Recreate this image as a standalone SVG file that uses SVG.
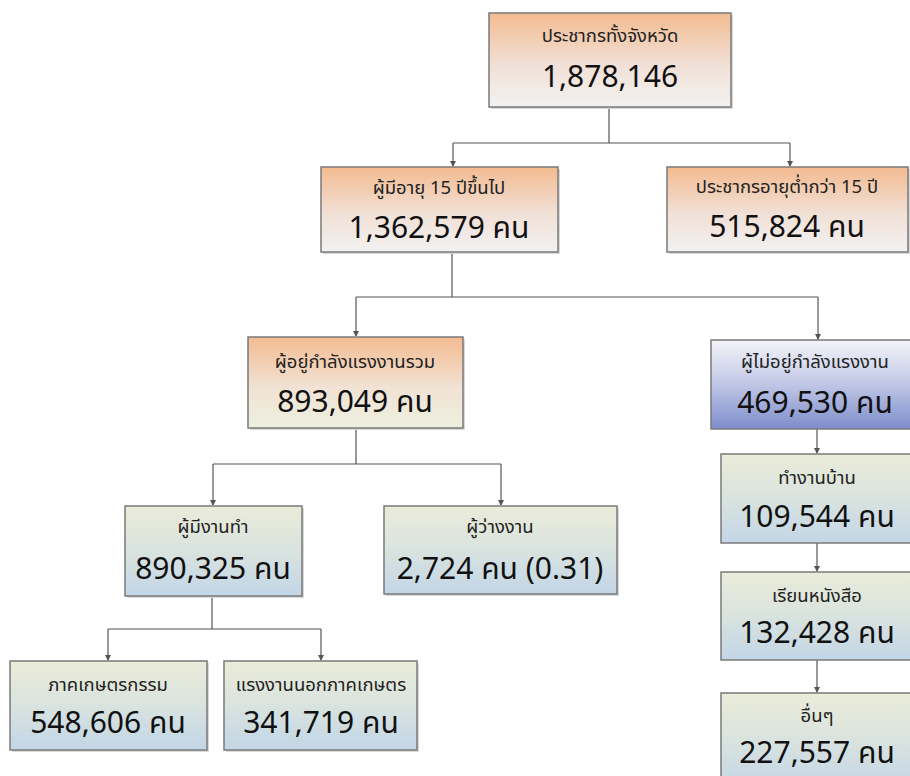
<svg xmlns="http://www.w3.org/2000/svg" width="910" height="776" viewBox="0 0 910 776">
<defs>
<linearGradient id="gOr" x1="0" y1="0" x2="0" y2="1"><stop offset="0" stop-color="#F3BB90"/><stop offset="0.55" stop-color="#F1E0D6"/><stop offset="1" stop-color="#F2F2F2"/></linearGradient>
<linearGradient id="gOrG" x1="0" y1="0" x2="0" y2="1"><stop offset="0" stop-color="#F3BB90"/><stop offset="0.55" stop-color="#F1E2D4"/><stop offset="1" stop-color="#EDF0DF"/></linearGradient>
<linearGradient id="gGB" x1="0" y1="0" x2="0" y2="1"><stop offset="0" stop-color="#EBECD9"/><stop offset="0.5" stop-color="#D9E3DF"/><stop offset="1" stop-color="#C3D6E7"/></linearGradient>
<linearGradient id="gBl" x1="0" y1="0" x2="0" y2="1"><stop offset="0" stop-color="#F4F4F8"/><stop offset="0.45" stop-color="#C6CCE8"/><stop offset="1" stop-color="#7D8DCB"/></linearGradient>
<marker id="arr" viewBox="0 0 6 6" refX="5" refY="3" markerWidth="6" markerHeight="6" orient="auto" markerUnits="userSpaceOnUse"><path d="M0,0 L6,3 L0,6 z" fill="#555"/></marker>
</defs>
<style>
.box{stroke:#7A7A7A;stroke-width:1.5}
.sh{fill:#D8D8D8}
.t{font-family:"Noto Sans Thai","Tahoma","Loma","Garuda","Noto Sans","DejaVu Sans",sans-serif;font-size:18.5px;fill:#222;text-anchor:middle}
.v{font-family:"Noto Sans Thai","Tahoma","Loma","Garuda","Noto Sans","DejaVu Sans",sans-serif;font-size:30px;fill:#111;text-anchor:middle}
.c{fill:none;stroke:#555;stroke-width:1.2}
</style>
<rect width="910" height="776" fill="#FFFFFF"/>
<g id="connectors">
<path class="c" d="M609,107 V143 M453,143 H790"/>
<path class="c" d="M453,143 V166" marker-end="url(#arr)"/>
<path class="c" d="M790,143 V166" marker-end="url(#arr)"/>
<path class="c" d="M452,252 V297 M356,297 H818"/>
<path class="c" d="M356,297 V336" marker-end="url(#arr)"/>
<path class="c" d="M818,297 V339" marker-end="url(#arr)"/>
<path class="c" d="M356,428 V464 M213,464 H501"/>
<path class="c" d="M213,464 V505" marker-end="url(#arr)"/>
<path class="c" d="M501,464 V505" marker-end="url(#arr)"/>
<path class="c" d="M212,596 V629 M108,629 H321"/>
<path class="c" d="M108,629 V660" marker-end="url(#arr)"/>
<path class="c" d="M321,629 V660" marker-end="url(#arr)"/>
<path class="c" d="M817,429 V453" marker-end="url(#arr)"/>
<path class="c" d="M817,543 V571" marker-end="url(#arr)"/>
<path class="c" d="M817,660 V692" marker-end="url(#arr)"/>
</g>
<g id="n1"><rect class="sh" x="491" y="15" width="242" height="94"/><rect class="box" x="489" y="13" width="242" height="94" fill="url(#gOr)"/><text class="t" x="610" y="42">ประชากรทั้งจังหวัด</text><text class="v" x="610" y="87">1,878,146</text></g>
<g id="n2"><rect class="sh" x="323" y="169" width="237" height="85"/><rect class="box" x="321" y="167" width="237" height="85" fill="url(#gOr)"/><text class="t" x="439" y="194">ผู้มีอายุ 15 ปีขึ้นไป</text><text class="v" x="439" y="238">1,362,579 คน</text></g>
<g id="n3"><rect class="sh" x="669" y="169" width="241" height="85"/><rect class="box" x="667" y="167" width="241" height="85" fill="url(#gOr)"/><text class="t" x="787" y="193">ประชากรอายุต่ำกว่า 15 ปี</text><text class="v" x="787" y="237">515,824 คน</text></g>
<g id="n4"><rect class="sh" x="250" y="339" width="215" height="91"/><rect class="box" x="248" y="337" width="215" height="91" fill="url(#gOrG)"/><text class="t" x="355" y="368">ผู้อยู่กำลังแรงงานรวม</text><text class="v" x="355" y="412">893,049 คน</text></g>
<g id="n5"><rect class="box" x="711" y="340" width="210" height="89" fill="url(#gBl)"/><text class="t" x="815" y="368">ผู้ไม่อยู่กำลังแรงงาน</text><text class="v" x="815" y="413">469,530 คน</text></g>
<g id="n6"><rect class="sh" x="127" y="508" width="177" height="90"/><rect class="box" x="125" y="506" width="177" height="90" fill="url(#gGB)"/><text class="t" x="213" y="533">ผู้มีงานทำ</text><text class="v" x="213" y="579">890,325 คน</text></g>
<g id="n7"><rect class="sh" x="386" y="508" width="233" height="88"/><rect class="box" x="384" y="506" width="233" height="88" fill="url(#gGB)"/><text class="t" x="500" y="533">ผู้ว่างงาน</text><text class="v" x="500" y="579">2,724 คน (0.31)</text></g>
<g id="n8"><rect class="box" x="721" y="454" width="200" height="89" fill="url(#gGB)"/><text class="t" x="817" y="484">ทำงานบ้าน</text><text class="v" x="817" y="527">109,544 คน</text></g>
<g id="n9"><rect class="box" x="721" y="572" width="200" height="88" fill="url(#gGB)"/><text class="t" x="817" y="602">เรียนหนังสือ</text><text class="v" x="817" y="643">132,428 คน</text></g>
<g id="n10"><rect class="box" x="721" y="693" width="200" height="95" fill="url(#gGB)"/><text class="t" x="817" y="722">อื่นๆ</text><text class="v" x="817" y="763">227,557 คน</text></g>
<g id="n11"><rect class="sh" x="12" y="663" width="197" height="89"/><rect class="box" x="10" y="661" width="197" height="89" fill="url(#gGB)"/><text class="t" x="108" y="691">ภาคเกษตรกรรม</text><text class="v" x="108" y="733">548,606 คน</text></g>
<g id="n12"><rect class="sh" x="226" y="663" width="193" height="89"/><rect class="box" x="224" y="661" width="193" height="89" fill="url(#gGB)"/><text class="t" x="321" y="691">แรงงานนอกภาคเกษตร</text><text class="v" x="321" y="733">341,719 คน</text></g>
</svg>
